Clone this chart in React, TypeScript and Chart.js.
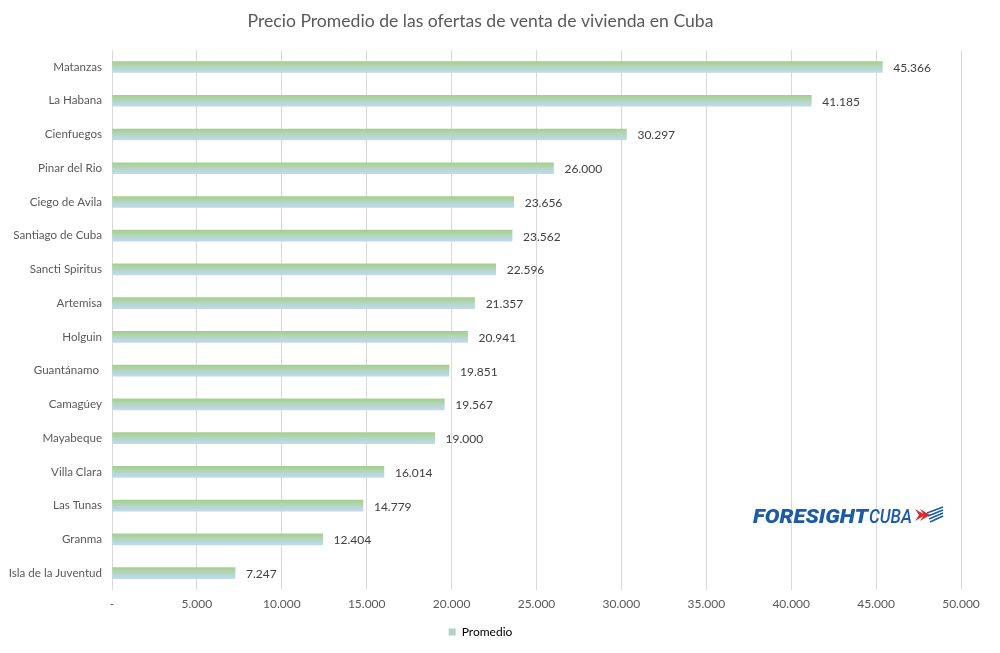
import React, { useEffect, useRef } from "react";
import { Chart, registerables } from "chart.js";

Chart.register(...registerables);

const title = "Precio Promedio de las ofertas de venta de vivienda en Cuba";
const seriesName = "Promedio";
const provinces = [
  "Matanzas",
  "La Habana",
  "Cienfuegos",
  "Pinar del Rio",
  "Ciego de Avila",
  "Santiago de Cuba",
  "Sancti Spiritus",
  "Artemisa",
  "Holguin",
  "Guantánamo ",
  "Camagúey",
  "Mayabeque",
  "Villa Clara",
  "Las Tunas",
  "Granma",
  "Isla de la Juventud",
];
const averagePrice = [
  45366, 41185, 30297, 26000, 23656, 23562, 22596, 21357, 20941, 19851, 19567,
  19000, 16014, 14779, 12404, 7247,
];
const xTickValues = [0, 5000, 10000, 15000, 20000, 25000, 30000, 35000, 40000, 45000, 50000];

const FONT = "Lato, 'Open Sans', sans-serif";
const TEXT = "#595959";

const fmt = (n: number) =>
  n === 0 ? "-" : String(n).replace(/\B(?=(\d{3})+(?!\d))/g, ".");

const valueLabels = {
  id: "valueLabels",
  afterDatasetsDraw(chart: any) {
    const ctx = chart.ctx;
    const meta = chart.getDatasetMeta(0);
    ctx.save();
    ctx.font = `12px ${FONT}`;
    ctx.fillStyle = "#404040";
    ctx.textAlign = "left";
    ctx.textBaseline = "middle";
    meta.data.forEach((el: any, i: number) => {
      ctx.fillText(fmt(averagePrice[i]), el.x + 11, el.y + 1);
    });
    ctx.restore();
  },
};

// draws a word squeezed or stretched to an exact width
function fitText(ctx: CanvasRenderingContext2D, text: string, x: number, y: number, w: number) {
  const m = ctx.measureText(text).width;
  ctx.save();
  ctx.translate(x, y);
  ctx.scale(w / m, 1);
  ctx.fillText(text, 0, 0);
  ctx.restore();
}

const brandMark = {
  id: "brandMark",
  afterDraw(chart: any) {
    const ctx = chart.ctx;
    const x = 753;
    const base = 523;
    ctx.save();
    ctx.fillStyle = "#1d5aa8";
    ctx.textBaseline = "alphabetic";
    ctx.font = `italic 900 20px Roboto, sans-serif`;
    fitText(ctx, "FORESIGHT", x, base, 115);
    ctx.font = `italic 500 20px Roboto, sans-serif`;
    fitText(ctx, "CUBA", x + 116, base, 43);
    // flag: red chevrons with blue stripes
    const fx = 915;
    const fy = 508;
    ctx.fillStyle = "#d62b2b";
    ctx.beginPath();
    ctx.moveTo(fx, fy + 1);
    ctx.lineTo(fx + 10, fy + 7);
    ctx.lineTo(fx, fy + 13);
    ctx.lineTo(fx + 4, fy + 7);
    ctx.closePath();
    ctx.fill();
    ctx.beginPath();
    ctx.moveTo(fx + 5, fy + 1);
    ctx.lineTo(fx + 15, fy + 7);
    ctx.lineTo(fx + 5, fy + 13);
    ctx.lineTo(fx + 9, fy + 7);
    ctx.closePath();
    ctx.fill();
    ctx.strokeStyle = "#1d5aa8";
    ctx.lineWidth = 1.6;
    for (let k = 0; k < 4; k++) {
      ctx.beginPath();
      ctx.moveTo(fx + 12 + k * 1, fy + 5 + k * 3);
      ctx.lineTo(fx + 28, fy - 1 + k * 3);
      ctx.stroke();
    }
    ctx.restore();
  },
};

export default function App() {
  const ref = useRef<HTMLCanvasElement | null>(null);

  useEffect(() => {
    if (!ref.current) return;
    const chart = new Chart(ref.current, {
      type: "bar",
      data: {
        labels: provinces,
        datasets: [
          {
            label: seriesName,
            data: averagePrice,
            barThickness: 11,
            borderWidth: 0,
            backgroundColor: (c: any) => {
              const ch = c.chart;
              const ys = ch.scales && ch.scales.y;
              if (!ys || c.dataIndex === undefined) return "#b2d3c6";
              const cy = ys.getPixelForValue(c.dataIndex);
              const g = ch.ctx.createLinearGradient(0, cy - 5.5, 0, cy + 5.5);
              g.addColorStop(0, "#a6cf8c");
              g.addColorStop(0.5, "#b3d6c2");
              g.addColorStop(1, "#c0d9f0");
              return g;
            },
          },
        ],
      },
      options: {
        indexAxis: "y",
        animation: false,
        responsive: false,
        layout: { padding: { left: 0, right: 39, top: 0, bottom: 5 } },
        scales: {
          x: {
            min: 0,
            max: 50000,
            afterBuildTicks: (s: any) => {
              s.ticks = xTickValues.map((v) => ({ value: v }));
            },
            afterFit: (s: any) => {
              s.height = 26;
            },
            grid: { color: "#d9d9d9", lineWidth: 1, drawTicks: false },
            border: { display: false },
            ticks: {
              padding: 7,
              color: TEXT,
              font: { family: FONT, size: 12 },
              callback: (v: any) => fmt(Number(v)),
            },
          },
          y: {
            afterFit: (s: any) => {
              s.width = 112;
            },
            grid: { display: false, drawTicks: false },
            border: { display: false },
            ticks: {
              padding: 10,
              color: TEXT,
              font: { family: FONT, size: 11.6 },
            },
          },
        },
        plugins: {
          title: {
            display: true,
            text: title,
            color: TEXT,
            font: { family: FONT, size: 17.6, weight: "normal" },
            padding: { top: 11, bottom: 18 },
          },
          legend: {
            position: "bottom",
            labels: {
              boxWidth: 7,
              boxHeight: 7,
              color: TEXT,
              font: { family: FONT, size: 12 },
              generateLabels: () => [
                {
                  text: seriesName,
                  fillStyle: "#b2d3c6",
                  strokeStyle: "#b2d3c6",
                  lineWidth: 0,
                  hidden: false,
                  datasetIndex: 0,
                },
              ],
            },
          },
          tooltip: { enabled: false },
        },
      },
      plugins: [valueLabels, brandMark],
    });
    return () => chart.destroy();
  }, []);

  return (
    <div style={{ position: "fixed", left: 0, top: 0, width: 1000, height: 653, background: "#fff" }}>
      <canvas ref={ref} width={1000} height={653} />
    </div>
  );
}
